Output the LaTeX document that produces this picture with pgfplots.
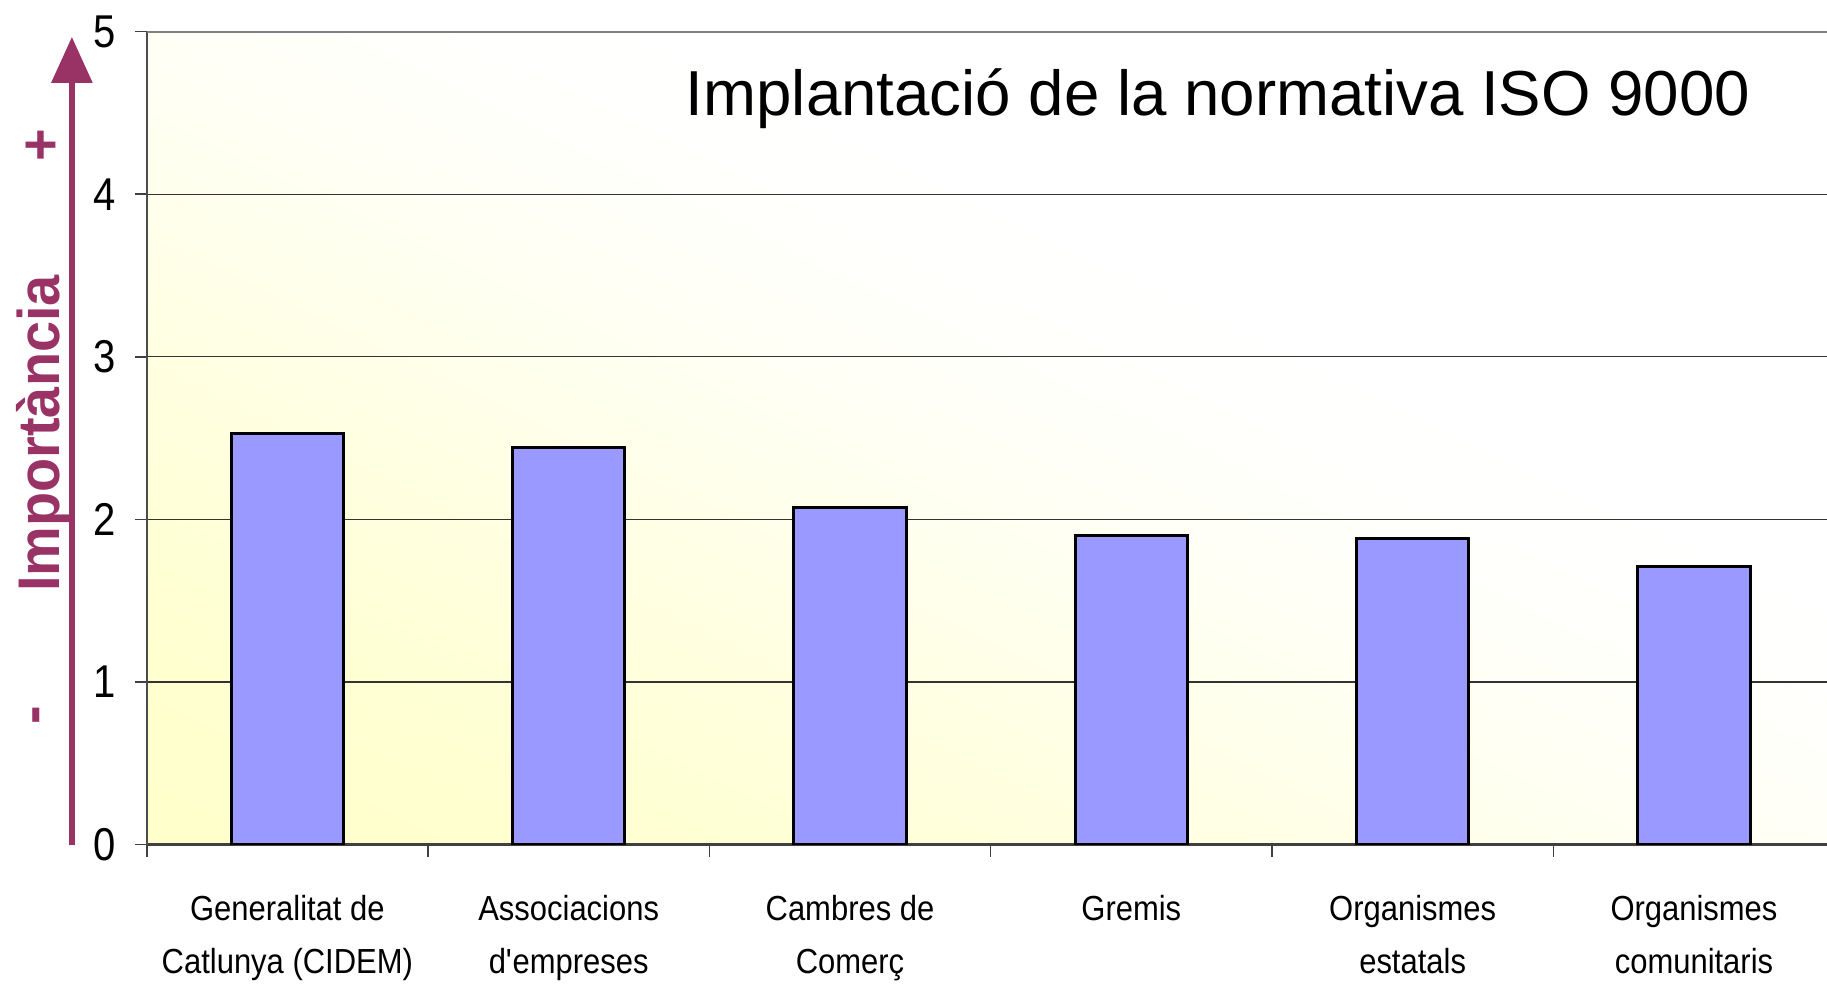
\documentclass[border=0pt]{standalone}
\usepackage{fontspec}
\setmainfont{Liberation Sans}
\newfontfamily\xlabfont{Liberation Sans}[FakeStretch=0.89]
\newfontfamily\ylabfont{Liberation Sans}[FakeStretch=0.87]
\newfontfamily\impfont{Liberation Sans}[FakeStretch=0.95]
\usepackage{pgfplots}
\pgfplotsset{compat=1.18}
\usetikzlibrary{arrows.meta}
\definecolor{barfill}{HTML}{9999FF}
\definecolor{plum}{HTML}{993366}
% background: FFFFCC in the lower left corner, fading to white along the diagonal
\pgfdeclarefunctionalshading{bgshade}{\pgfpointorigin}{\pgfpoint{100bp}{100bp}}{}{
  add 50 sub 68 div
  dup 0 lt {pop 0} if dup 1 gt {pop 1} if
  dup dup mul exch 2 mul 3 exch sub mul 1 exch sub
  0.2 mul 1 exch sub 1 1 3 -1 roll
}
\newcommand{\twol}[2]{\begin{tabular}[t]{@{}c@{}}#1\\#2\end{tabular}}
\begin{document}
\begin{tikzpicture}
\begin{axis}[
  at={(0,0)}, anchor=south west,
  width=420.075pt, height=203.225pt, scale only axis,
  xmin=0, xmax=5.973, ymin=0, ymax=5,
  ybar, bar width=0.4, bar shift=0pt,
  axis x line*=bottom, axis y line*=left,
  x axis line style={black!75, line width=0.7pt},
  y axis line style={black!70, line width=0.5pt},
  xtick={0,1,2,3,4,5},
  ytick={0,1,2,3,4,5},
  yticklabels={0,1,2,3,4,5},
  tick align=outside, major tick length=3pt,
  tick style={black!75, line width=0.4pt},
  ymajorgrids, major grid style={black!80, line width=0.3pt},
  yticklabel style={font=\ylabfont\fontsize{11.5}{13}\selectfont, inner sep=0pt, xshift=-4.5pt},
  xticklabels={
    {\twol{Generalitat de}{Catlunya (CIDEM)}},
    {\twol{Associacions}{d\textquotesingle empreses}},
    {\twol{Cambres de}{Comerç}},
    {\twol{Gremis}{}},
    {\twol{Organismes}{estatals}},
    {\twol{Organismes}{comunitaris}}},
  xticklabel style={font=\xlabfont\fontsize{8.7}{13.25}\selectfont, anchor=base, inner sep=0pt, xshift=35.166pt, yshift=-15.9pt},
  axis background/.style={shading=bgshade},
]
\addplot[fill=barfill, draw=black, line width=0.75pt] coordinates
  {(0.5,2.53) (1.5,2.44) (2.5,2.07) (3.5,1.90) (4.5,1.88) (5.5,1.71)};
\draw[black!50, line width=0.75pt] (rel axis cs:0,1) -- (rel axis cs:1,1);
\end{axis}
% title and the importance arrow
\node[anchor=base west, inner sep=0pt, font=\fontsize{15.9}{19}\selectfont] at (134.6pt,182.2pt) {Implantació de la normativa ISO 9000};
\draw[plum, line width=1.5pt, -{Triangle[width=10pt, length=11.5pt]}] (-18.7pt,0pt) -- (-18.7pt,201.9pt);
\node[rotate=90, anchor=base, inner sep=0pt, text=plum, font=\impfont\bfseries\fontsize{14.7}{17}\selectfont] at (-21.7pt,102.75pt) {Importància};
\node[rotate=90, inner sep=0pt, text=plum, font=\impfont\bfseries\fontsize{14.7}{17}\selectfont] at (-25.9pt,174.9pt) {+};
\node[rotate=90, inner sep=0pt, text=plum, font=\impfont\bfseries\fontsize{14.7}{17}\selectfont] at (-26.2pt,32.4pt) {-};
\pgfresetboundingbox
\path[use as bounding box] (-36.675pt,-35.375pt) rectangle (420.075pt,211.125pt);
\end{tikzpicture}
\end{document}
